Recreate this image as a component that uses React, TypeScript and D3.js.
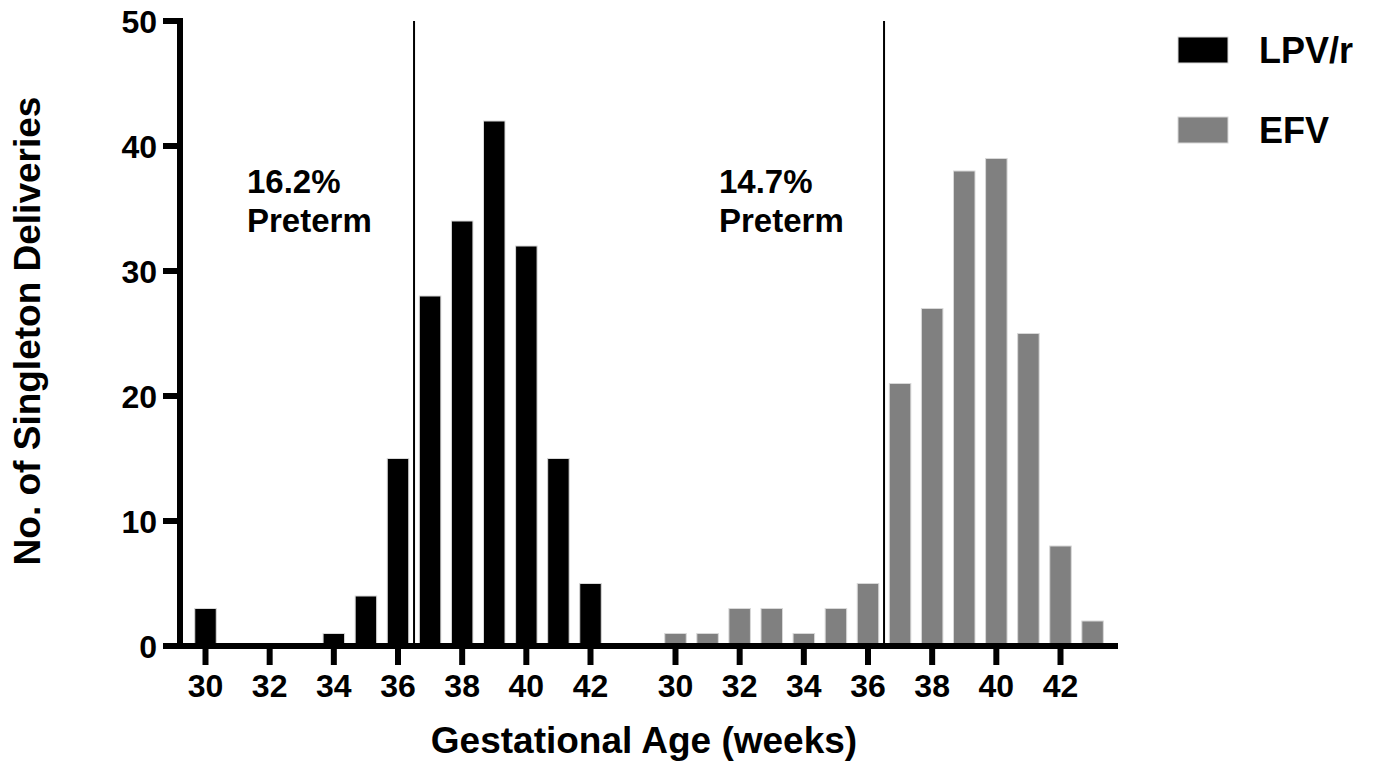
import React from "react";
import * as d3 from "d3";

const weeksLPV = [30, 31, 32, 33, 34, 35, 36, 37, 38, 39, 40, 41, 42];
const valuesLPV = [3, 0, 0, 0, 1, 4, 15, 28, 34, 42, 32, 15, 5];
const weeksEFV = [30, 31, 32, 33, 34, 35, 36, 37, 38, 39, 40, 41, 42, 43];
const valuesEFV = [1, 1, 3, 3, 1, 3, 5, 21, 27, 38, 39, 25, 8, 2];
const xTicks = [30, 32, 34, 36, 38, 40, 42];
const yTicks = [0, 10, 20, 30, 40, 50];
const pretermCut = 36.5;
const pretermLPV = ["16.2%", "Preterm"];
const pretermEFV = ["14.7%", "Preterm"];
const seriesNames = ["LPV/r", "EFV"];
const seriesColors = ["#000000", "#808080"];

const FONT = "'Liberation Sans', Arial, Helvetica, sans-serif";

export default function App() {
  const y = d3.scaleLinear().domain([0, 50]).range([646, 21]);
  const xL = d3.scaleLinear().domain([30, 42]).range([205.5, 590.5]);
  const xE = d3.scaleLinear().domain([30, 42]).range([675.5, 1060.5]);
  const step = xL(31) - xL(30);
  const bw = step * 0.67;
  const axisX = 180;
  const axisY = y(0);

  const bars = (weeks: number[], vals: number[], sc: d3.ScaleLinear<number, number>, color: string, key: string) =>
    weeks.map((w, i) =>
      vals[i] > 0 ? (
        <rect
          key={key + w}
          x={sc(w) - bw / 2}
          y={y(vals[i])}
          width={bw}
          height={axisY - y(vals[i])}
          fill={color}
          stroke="#d8d8d8"
          strokeWidth={1}
        />
      ) : null
    );

  const xTickEls = (sc: d3.ScaleLinear<number, number>, key: string) =>
    xTicks.map((t) => (
      <g key={key + t}>
        <line x1={sc(t)} x2={sc(t)} y1={axisY} y2={665} stroke="#000" strokeWidth={6} />
        <text x={sc(t)} y={697} textAnchor="middle" fontSize={32} fontWeight="bold" fontFamily={FONT}>
          {t}
        </text>
      </g>
    ));

  return (
    <svg
      width={1375}
      height={768}
      style={{ position: "absolute", left: 0, top: 0, background: "#fff" }}
    >
      {/* preterm cut lines */}
      <line x1={xL(pretermCut)} x2={xL(pretermCut)} y1={y(50)} y2={axisY} stroke="#000" strokeWidth={2} />
      <line x1={xE(pretermCut)} x2={xE(pretermCut)} y1={y(50)} y2={axisY} stroke="#000" strokeWidth={2} />

      {bars(weeksLPV, valuesLPV, xL, seriesColors[0], "l")}
      {bars(weeksEFV, valuesEFV, xE, seriesColors[1], "e")}

      {/* axes */}
      <line x1={axisX} x2={axisX} y1={y(50) - 3} y2={axisY + 3} stroke="#000" strokeWidth={6} />
      <line x1={axisX - 3} x2={1118} y1={axisY} y2={axisY} stroke="#000" strokeWidth={6} />
      {yTicks.map((t) => (
        <g key={"y" + t}>
          <line x1={163} x2={axisX} y1={y(t)} y2={y(t)} stroke="#000" strokeWidth={6} />
          <text x={157} y={y(t) + 11.5} textAnchor="end" fontSize={32} fontWeight="bold" fontFamily={FONT}>
            {t}
          </text>
        </g>
      ))}
      {xTickEls(xL, "xl")}
      {xTickEls(xE, "xe")}

      {/* annotations */}
      <text x={247} y={193} fontSize={33} fontWeight="bold" fontFamily={FONT}>{pretermLPV[0]}</text>
      <text x={247} y={232} fontSize={33} fontWeight="bold" fontFamily={FONT}>{pretermLPV[1]}</text>
      <text x={719} y={193} fontSize={33} fontWeight="bold" fontFamily={FONT}>{pretermEFV[0]}</text>
      <text x={719} y={232} fontSize={33} fontWeight="bold" fontFamily={FONT}>{pretermEFV[1]}</text>

      {/* axis titles */}
      <text x={644} y={753} textAnchor="middle" fontSize={37} fontWeight="bold" fontFamily={FONT}>
        Gestational Age (weeks)
      </text>
      <text
        transform="translate(40,331) rotate(-90)"
        textAnchor="middle"
        fontSize={37}
        fontWeight="bold"
        fontFamily={FONT}
      >
        No. of Singleton Deliveries
      </text>

      {/* legend */}
      {seriesNames.map((n, i) => (
        <g key={n}>
          <rect x={1178} y={37 + i * 80} width={50} height={26} fill={seriesColors[i]} stroke="#d8d8d8" strokeWidth={1} />
          <text x={1259} y={63 + i * 80} fontSize={36} fontWeight="bold" fontFamily={FONT}>
            {n}
          </text>
        </g>
      ))}
    </svg>
  );
}
